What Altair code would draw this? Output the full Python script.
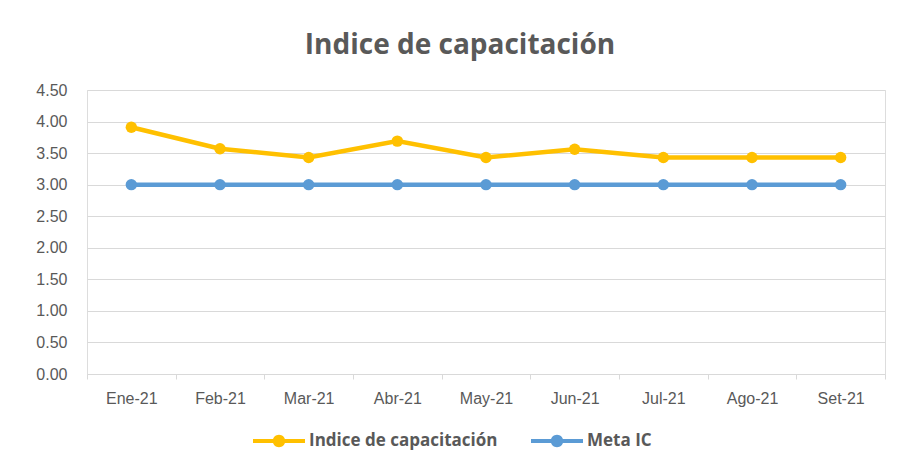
import altair as alt
import pandas as pd

months = ["Ene-21", "Feb-21", "Mar-21", "Abr-21", "May-21", "Jun-21", "Jul-21", "Ago-21", "Set-21"]
indice = [3.91, 3.57, 3.43, 3.69, 3.43, 3.56, 3.43, 3.43, 3.43]
meta = [3.00, 3.00, 3.00, 3.00, 3.00, 3.00, 3.00, 3.00, 3.00]
series_names = ["Indice de capacitación", "Meta IC"]
series_colors = ["#FFC000", "#5B9BD5"]
y_ticks = [0, 0.5, 1.0, 1.5, 2.0, 2.5, 3.0, 3.5, 4.0, 4.5]

rows = []
for m, v in zip(months, indice):
    rows.append({"mes": m, "valor": v, "serie": series_names[0]})
for m, v in zip(months, meta):
    rows.append({"mes": m, "valor": v, "serie": series_names[1]})
df = pd.DataFrame(rows)

FONT = "Liberation Sans"
GRAY = "#595959"
LIGHT = "#D9D9D9"

sym_path = ("M-1,-0.08 L1,-0.08 L1,0.08 L-1,0.08 Z "
            "M-0.24,0 A0.24,0.24 0 1,1 0.24,0 A0.24,0.24 0 1,1 -0.24,0 Z")

x_enc = alt.X(
    "mes:N",
    sort=months,
    scale=alt.Scale(type="band", paddingInner=0, paddingOuter=0),
    bandPosition=0.5,
    axis=alt.Axis(
        title=None, labelAngle=0, tickBand="extent", ticks=True, tickSize=5,
        tickColor=LIGHT, domainColor=LIGHT, domainWidth=1.2, labelPadding=11,
        labelFont=FONT, labelFontSize=16, labelColor=GRAY, grid=False,
    ),
)
y_enc = alt.Y(
    "valor:Q",
    scale=alt.Scale(domain=[0, 4.5], nice=False),
    axis=alt.Axis(
        title=None, values=y_ticks, format=".2f", ticks=False, domain=False,
        labelPadding=20, labelFont=FONT, labelFontSize=16, labelColor=GRAY,
        gridColor=LIGHT, gridWidth=1.2,
    ),
)
color_enc = alt.Color(
    "serie:N",
    scale=alt.Scale(domain=series_names, range=series_colors),
    legend=alt.Legend(
        title=None, orient="none", direction="horizontal",
        legendX=166, legendY=325,
        symbolType=sym_path, symbolSize=2704, symbolStrokeWidth=0,
        labelFont="Open Sans", labelFontSize=17, labelFontWeight="bold", labelLimit=400,
        labelColor=GRAY, labelOffset=4, columnPadding=33,
    ),
)

base = alt.Chart(df).encode(x=x_enc, y=y_enc, color=color_enc, detail="serie:N")
lines = base.mark_line(strokeWidth=4.5)
points = base.mark_circle(size=130, opacity=1)

chart = (
    alt.layer(lines, points)
    .properties(
        width=798,
        height=284,
        autosize=alt.AutoSizeParams(type="none"),
        padding={"left": 79, "top": 82, "right": 6, "bottom": 80},
        title=alt.TitleParams(
            "Indice de capacitación", font="Open Sans", fontSize=28,
            fontWeight="bold", color=GRAY, anchor="middle", dx=-26, offset=22,
        ),
    )
    .configure_view(stroke=None)
    .configure(background="white")
)

chart.save("out.html", embed_options={"renderer": "svg", "actions": False})
